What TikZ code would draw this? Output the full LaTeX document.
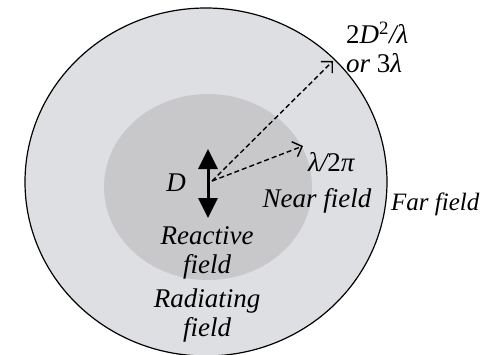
\documentclass[tikz,border=0pt]{standalone}
\usepackage{fontspec}
\setmainfont{Liberation Serif}
\usetikzlibrary{arrows.meta}
\definecolor{farbg}{RGB}{222,223,226}
\definecolor{nearbg}{RGB}{200,200,203}
\begin{document}
\begin{tikzpicture}[x=1pt, y=-1pt,
    lbl/.style={font=\fontsize{27}{29}\selectfont\itshape, inner sep=0pt, align=center},
    dasharrow/.style={dashed, dash pattern=on 5pt off 3pt, line width=1.4pt, -{Straight Barb[length=8pt, width=16pt]}},
    dipole/.style={line width=3pt, {Triangle[length=20pt, width=19pt]}-{Triangle[length=20pt, width=19pt]}}]
    \useasboundingbox (0,0) rectangle (482,354);
    % 远场和近场区域
    \draw[fill=farbg, line width=1.2pt] (206,182) ellipse [x radius=181, y radius=174];
    \fill[nearbg] (208,187) ellipse [x radius=104, y radius=93];

    % 偶极子
    \coordinate (dtop) at (208,149);
    \coordinate (dbot) at (208,218);
    \coordinate (src) at (212,181);
    \draw[dipole] (dtop) -- (dbot);
    \node[lbl] (D) at (176,183) {D};

    % 边界箭头
    \coordinate (nearpt) at (303,146);
    \coordinate (farpt) at (333,61);
    \draw[dasharrow] (src) -- (nearpt);
    \draw[dasharrow] (src) -- (farpt);
    \node[lbl, anchor=west] (nearr) at (308,162) {λ/{\upshape 2}π};
    \node[lbl, anchor=west, align=left] (farr) at (346,47) {{\upshape 2}D{\upshape\textsuperscript{2}}/λ\\or {\upshape 3}λ};

    % 区域标注
    \node[lbl] (near) at (317,201) {Near field};
    \node[lbl, anchor=west, font=\fontsize{25}{29}\selectfont\itshape] (far) at (391,204) {Far field};
    \node[lbl] (react) at (207,253) {Reactive\\field};
    \node[lbl] (rad) at (207,316) {Radiating\\field};
\end{tikzpicture}
\end{document}
